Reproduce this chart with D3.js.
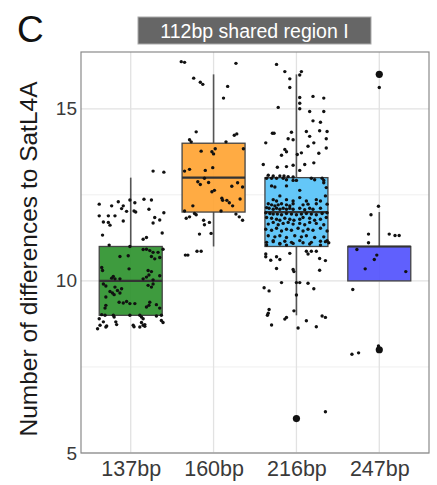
<style>body { margin: 0; }</style>
<svg id="container" width="437" height="485"></svg>

<script src="https://d3js.org/d3.v7.min.js"></script>
<script>
  // categories and box statistics
  const groups = ['137bp', '160bp', '216bp', '247bp']
  const fills = ['#2f932f', '#ffa535', '#58c3f8', '#5454fd']
  const q1 = [9, 12, 11, 10]
  const median = [10, 13, 12, 11]
  const q3 = [11, 14, 13, 11]
  const whiskerLow = [9, 11, 9, 10]
  const whiskerHigh = [13, 16, 16, 12]
  const outliers = [[], [], [6], [16, 8]]
  const yTicks = [5, 10, 15]
  const yMinor = [7.5, 12.5]

  // jittered points: [horizontal offset in category units, value]
  const pts137 = [
    [.27,13.19],[.40,13.16],[-.38,12.23],[-.23,12.18],[-.15,12.30],[-.11,12.10],[-.09,12.18],[-.05,12.02],
    [-.01,12.35],[.05,12.27],[.04,12.03],[.06,12.00],[.16,12.37],[.25,12.35],[.22,12.08],[-.38,11.89],
    [-.27,11.89],[-.19,11.89],[-.33,11.71],[-.27,11.70],[-.25,11.62],[-.09,11.74],[.29,11.84],[.35,11.77],
    [.27,11.68],[.40,11.98],[-.34,11.33],[.15,11.21],[.19,11.26],[.38,11.39],[-.26,11.04],[-.01,11.00],
    [.19,10.92],[.23,10.88],[.27,10.83],[.33,10.83],[.39,10.92],[.15,10.91],[-.13,10.71],[-.03,10.73],
    [.25,10.71],[.29,10.64],[.35,10.68],[-.35,10.39],[-.34,10.30],[-.02,10.35],[.21,10.30],[.25,10.27],
    [.35,10.15],[.27,10.03],[-.21,10.13],[-.23,10.08],[-.19,10.06],[-.13,10.06],[.15,10.06],[.19,10.11],
    [.22,10.17],[-.33,9.91],[-.30,9.85],[-.19,9.82],[-.16,9.72],[-.25,9.69],[-.22,9.65],[-.20,9.60],
    [-.13,9.65],[.25,9.82],[.21,9.87],[.27,9.91],[-.11,9.77],[-.30,9.53],[-.14,9.38],[-.09,9.36],
    [-.05,9.40],[-.01,9.34],[.05,9.34],[.23,9.38],[.22,9.29],[-.30,9.29],[-.31,9.21],[.31,9.31],
    [.35,9.21],[.19,9.24],[-.35,9.02],[-.31,9.00],[-.21,9.00],[-.20,8.95],[-.01,9.00],[.11,9.00],
    [.13,8.95],[.15,8.90],[.31,8.98],[.37,9.00],[-.38,8.90],[-.33,8.81],[-.18,8.81],[-.17,8.73],
    [.03,8.71],[.13,8.79],[.15,8.71],[.17,8.73],[.37,8.85],[.39,8.79],[-.37,8.71],[-.29,8.69],
    [.11,8.66],[-.40,8.61],[-.30,8.66],[.04,8.67],[.17,8.68]
  ]
  const pts160 = [
    [-.39,16.37],[-.35,16.35],[.27,16.32],[-.24,15.89],[-.16,15.77],[-.13,15.71],[.17,15.65],[.12,15.31],
    [-.21,14.33],[-.29,14.10],[-.27,14.04],[.25,14.23],[.28,14.27],[.15,14.04],[.36,13.84],[-.15,13.77],
    [-.02,13.75],[.00,13.69],[.02,13.84],[-.35,13.19],[-.29,13.24],[-.10,13.21],[-.01,13.29],[-.11,12.98],
    [-.19,12.88],[-.16,12.80],[-.06,12.86],[-.02,12.59],[.01,12.63],[.22,12.75],[.29,12.85],[.35,12.73],
    [.32,12.38],[.10,12.40],[.11,12.34],[.16,12.34],[.19,12.27],[.23,12.18],[-.25,12.18],[.09,12.03],
    [-.35,12.03],[-.23,11.96],[-.21,11.92],[-.29,11.86],[-.33,11.82],[.27,11.94],[.31,11.86],[.35,11.76],
    [-.12,11.76],[-.11,11.63],[-.05,11.70],[-.17,11.36],[-.03,11.38],[-.20,10.86],[-.15,10.86],[-.34,10.75],
    [-.31,10.75]
  ]
  const pts216 = [
    [-.24,16.29],[-.14,16.08],[-.08,15.87],[.04,15.98],[.06,16.08],[-.08,15.62],[.04,15.33],[.04,15.16],
    [.20,15.36],[.33,15.31],[.04,15.00],[-.22,15.04],[.16,14.92],[.33,14.92],[.20,14.65],[.29,14.61],
    [-.29,14.29],[-.27,14.29],[-.06,14.32],[.12,14.34],[.28,14.36],[.37,14.34],[-.10,14.13],[-.04,14.10],
    [.16,14.20],[.14,13.91],[.21,14.01],[.36,14.13],[-.37,14.01],[-.14,13.82],[-.12,13.75],[-.18,13.65],
    [.01,13.67],[.06,13.72],[.27,13.71],[.36,13.86],[-.40,13.38],[-.23,13.30],[-.12,13.32],[-.04,13.36],
    [.10,13.38],[.21,13.43],[.04,13.21],[-.34,13.07],[-.28,13.05],[-.20,13.05],[-.15,13.05],[-.10,13.03],
    [-.04,13.02],
    [-.36,12.98],[-.30,12.98],[-.24,12.98],[-.16,12.98],[-.12,12.94],[-.04,12.92],[.00,12.92],[.18,12.98],
    [.22,12.94],[.31,12.98],[.33,12.92],[-.30,12.76],[-.26,12.73],[-.12,12.76],[.33,12.85],[.36,12.71],
    [.04,12.63],[-.20,12.47],[.35,12.47],[-.28,12.36],[-.24,12.32],[-.12,12.36],[-.04,12.32],[.04,12.42],
    [.12,12.32],[.24,12.36],[.29,12.32],[-.34,12.24],[-.30,12.21],[-.26,12.18],[-.22,12.21],[-.18,12.24],
    [-.12,12.21],[-.08,12.18],[-.04,12.24],[.08,12.21],[.14,12.23],[.24,12.24],[.37,12.23],[-.36,12.13],
    [-.33,12.11],[-.28,12.08],[-.24,12.11],[-.20,12.08],[-.16,12.11],[-.12,12.08],[-.08,12.11],[-.04,12.08],
    [.04,12.11],[.10,12.07],[.16,12.11],[.20,12.08],[.29,12.11],[-.37,11.98],[-.32,11.96],[-.28,11.94],
    [-.23,11.94],[-.18,11.92],[-.12,11.96],[-.06,11.94],[.00,11.92],[.06,11.94],[.12,11.96],[.18,11.94],
    [.24,11.92],[.31,11.96],[.37,11.98],[-.36,11.84],[-.30,11.82],[-.24,11.79],[-.20,11.76],[-.14,11.82],
    [-.08,11.79],[-.03,11.76],[.04,11.79],[.08,11.84],[.16,11.82],[.22,11.76],[.29,11.79],[.36,11.84],
    [-.34,11.65],[-.28,11.70],[-.22,11.63],[-.16,11.67],[-.10,11.70],[-.04,11.65],[.04,11.67],[.10,11.63],
    [.16,11.70],[.24,11.67],[.33,11.63],[-.37,11.50],[-.30,11.47],[-.24,11.53],[-.18,11.45],[-.12,11.50],
    [-.06,11.47],[.02,11.53],[.08,11.45],[.14,11.50],[.20,11.47],[.29,11.53],[.37,11.45],[-.34,11.31],
    [-.26,11.28],[-.20,11.31],[-.12,11.26],[-.02,11.31],[.06,11.28],[.12,11.31],[.22,11.26],[.33,11.28],
    [-.36,11.12],[-.28,11.17],[-.20,11.09],[-.14,11.15],[-.06,11.12],[.04,11.17],[.18,11.12],[.29,11.15],
    [.37,11.17],[-.36,11.04],[-.28,11.14],[-.20,11.07],[-.12,11.04],[-.04,11.09],[.08,11.11],[.16,11.07],
    [.29,11.04],[.35,11.14],[.39,11.11],
    [-.37,10.78],[-.37,10.70],[-.31,10.60],[-.24,10.70],[-.20,10.62],[-.08,10.80],[.12,10.86],[.14,10.78],
    [.18,10.86],[.24,10.86],[.28,10.65],[.35,10.59],[-.24,10.36],[-.04,10.33],[-.03,10.27],[.28,10.31],
    [-.18,9.95],[.00,9.95],[.04,9.95],[.14,9.93],[-.39,9.80],[-.33,9.71],[.21,9.77],[.00,9.59],
    [-.33,9.17],[-.34,9.06],[-.35,9.00],[-.12,8.94],[-.14,8.89],[-.03,9.13],[.12,8.84],[.31,8.98],
    [.35,8.94],[-.30,8.72],[.02,8.63],[.24,8.67],[.35,6.20]
  ]
  const pts247 = [
    [.00,15.62],[-.01,12.17],[-.10,11.92],[-.13,11.36],[.12,11.36],[.19,11.32],[.24,11.32],[-.13,11.11],
    [-.27,10.91],[-.03,10.75],[-.06,10.62],[-.17,10.35],[.32,10.27],[-.32,9.75],[-.01,8.11],[-.33,7.87],
    [-.25,7.91]
  ]
  const points = [pts137, pts160, pts216, pts247]

  const pLeft = 81, pRight = 429, pTop = 52, pBottom = 453
  const font = 'Liberation Sans, Arial, sans-serif'

  const x = d3.scalePoint().domain(groups).range([pLeft, pRight]).padding(0.6)
  const step = x.step()
  const y = d3.scaleLinear().domain([5, 16.65]).range([pBottom, pTop])
  const boxW = 0.76 * step

  const svg = d3.select('#container')
    .style('background', '#fff')
    .style('font-family', font)

  // grid
  svg.append('g').selectAll('line').data(yMinor).join('line')
    .attr('x1', pLeft).attr('x2', pRight)
    .attr('y1', d => y(d)).attr('y2', d => y(d))
    .attr('stroke', '#efefef').attr('stroke-width', 1)
  svg.append('g').selectAll('line').data(yTicks).join('line')
    .attr('x1', pLeft).attr('x2', pRight)
    .attr('y1', d => y(d)).attr('y2', d => y(d))
    .attr('stroke', '#e2e2e2').attr('stroke-width', 1.3)
  svg.append('g').selectAll('line').data(groups).join('line')
    .attr('x1', d => x(d)).attr('x2', d => x(d))
    .attr('y1', pTop).attr('y2', pBottom)
    .attr('stroke', '#e2e2e2').attr('stroke-width', 1.3)

  // boxplots
  const box = svg.append('g').selectAll('g').data(groups).join('g')
  box.append('line')
    .attr('x1', d => x(d)).attr('x2', d => x(d))
    .attr('y1', (d, i) => y(whiskerHigh[i])).attr('y2', (d, i) => y(q3[i]))
    .attr('stroke', '#555').attr('stroke-width', 1.6)
  box.append('line')
    .attr('x1', d => x(d)).attr('x2', d => x(d))
    .attr('y1', (d, i) => y(whiskerLow[i])).attr('y2', (d, i) => y(q1[i]))
    .attr('stroke', '#555').attr('stroke-width', 1.6)
  box.append('rect')
    .attr('x', d => x(d) - boxW / 2).attr('width', boxW)
    .attr('y', (d, i) => y(q3[i]))
    .attr('height', (d, i) => y(q1[i]) - y(q3[i]))
    .attr('fill', (d, i) => fills[i]).attr('fill-opacity', 0.93)
    .attr('stroke', '#444').attr('stroke-width', 1.3)
  box.append('line')
    .attr('x1', d => x(d) - boxW / 2).attr('x2', d => x(d) + boxW / 2)
    .attr('y1', (d, i) => y(median[i])).attr('y2', (d, i) => y(median[i]))
    .attr('stroke', '#333').attr('stroke-width', 2.2)
  box.selectAll('circle.out').data((d, i) => outliers[i].map(v => [d, v])).join('circle')
    .attr('class', 'out')
    .attr('cx', d => x(d[0])).attr('cy', d => y(d[1])).attr('r', 3.6)
    .attr('fill', '#111')

  // jittered points
  box.selectAll('circle.pt').data((d, i) => points[i].map(p => [d, p[0], p[1]])).join('circle')
    .attr('class', 'pt')
    .attr('cx', d => x(d[0]) + d[1] * step).attr('cy', d => y(d[2])).attr('r', 1.7)
    .attr('fill', '#111')

  // panel border
  svg.append('rect')
    .attr('x', pLeft).attr('y', pTop)
    .attr('width', pRight - pLeft).attr('height', pBottom - pTop)
    .attr('fill', 'none').attr('stroke', '#8a8a8a').attr('stroke-width', 1.2)

  // axes
  const yAxis = svg.append('g').attr('transform', `translate(${pLeft},0)`)
    .call(d3.axisLeft(y).tickValues(yTicks).tickSize(0).tickPadding(4))
  const xAxis = svg.append('g').attr('transform', `translate(0,${pBottom})`)
    .call(d3.axisBottom(x).tickSize(0).tickPadding(8))
  yAxis.select('.domain').remove()
  xAxis.select('.domain').remove()
  yAxis.selectAll('text').attr('font-size', 19).attr('fill', '#3a3a3a').attr('font-family', font)
  xAxis.selectAll('text').attr('font-size', 21.5).attr('fill', '#3a3a3a').attr('font-family', font)

  // strip
  svg.append('rect')
    .attr('x', 138).attr('y', 17).attr('width', 233).attr('height', 27)
    .attr('fill', '#666').attr('stroke', '#aaa').attr('stroke-width', 1)
  svg.append('text')
    .attr('x', 254.5).attr('y', 37.5).attr('text-anchor', 'middle')
    .attr('font-size', 19.5).attr('fill', '#fff')
    .text('112bp shared region I')

  // titles
  svg.append('text')
    .attr('transform', 'translate(37,259) rotate(-90)')
    .attr('text-anchor', 'middle').attr('font-size', 24.5).attr('fill', '#1a1a1a')
    .text('Number of differences to SatL4A')
  svg.append('text')
    .attr('x', 17).attr('y', 42).attr('font-size', 37).attr('fill', '#111')
    .text('C')
</script>
